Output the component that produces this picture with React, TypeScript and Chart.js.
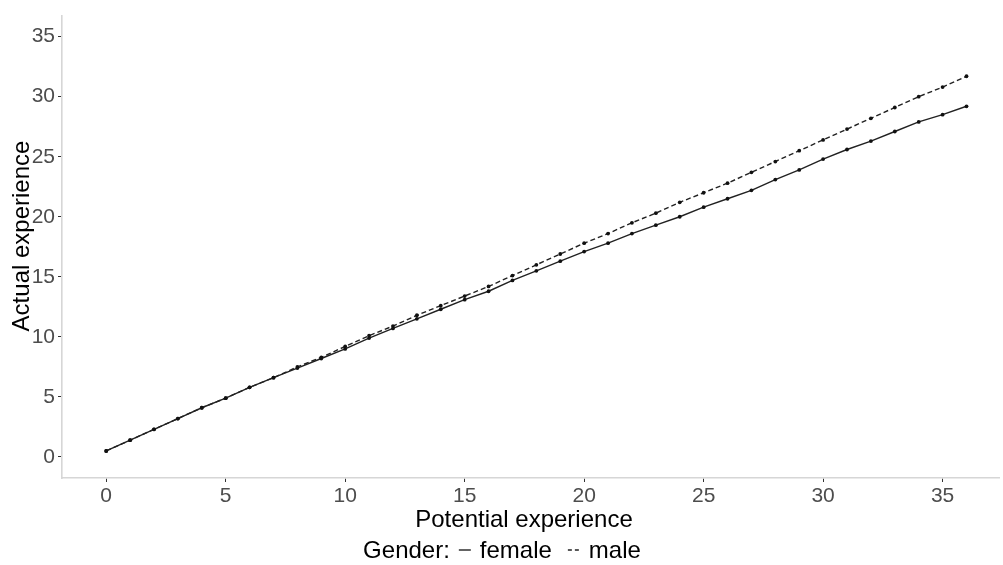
import React, { useEffect, useRef } from "react";
import { Chart, registerables } from "chart.js";

Chart.register(...registerables);

const potentialExp = [0, 1, 2, 3, 4, 5, 6, 7, 8, 9, 10, 11, 12, 13, 14, 15, 16, 17, 18, 19, 20, 21, 22, 23, 24, 25, 26, 27, 28, 29, 30, 31, 32, 33, 34, 35, 36];
const femaleExp = [0.5, 1.4, 2.3, 3.2, 4.1, 4.9, 5.8, 6.6, 7.4, 8.2, 9.0, 9.9, 10.7, 11.5, 12.3, 13.1, 13.8, 14.7, 15.5, 16.3, 17.1, 17.8, 18.6, 19.3, 20.0, 20.8, 21.5, 22.2, 23.1, 23.9, 24.8, 25.6, 26.3, 27.1, 27.9, 28.5, 29.2];
const maleExp = [0.5, 1.4, 2.3, 3.2, 4.1, 4.9, 5.8, 6.6, 7.5, 8.3, 9.2, 10.1, 10.9, 11.8, 12.6, 13.4, 14.2, 15.1, 16.0, 16.9, 17.8, 18.6, 19.5, 20.3, 21.2, 22.0, 22.8, 23.7, 24.6, 25.5, 26.4, 27.3, 28.2, 29.1, 30.0, 30.8, 31.7];
const xTickValues = [0, 5, 10, 15, 20, 25, 30, 35];
const yTickValues = [0, 5, 10, 15, 20, 25, 30, 35];
const seriesNames = ["female", "male"];
const xTitle = "Potential experience";
const yTitle = "Actual experience";
const legendTitle = "Gender:";

const FONT = "'Liberation Sans', Arial, sans-serif";

const annotatePlugin = {
  id: "annotate",
  afterDraw(chart: any) {
    const ctx = chart.ctx as CanvasRenderingContext2D;
    ctx.save();
    ctx.fillStyle = "#000";
    // x title
    ctx.font = `24px ${FONT}`;
    ctx.textAlign = "center";
    ctx.textBaseline = "alphabetic";
    ctx.fillText(xTitle, 524, 527);
    // y title
    ctx.save();
    ctx.translate(29, 236);
    ctx.rotate(-Math.PI / 2);
    ctx.fillText(yTitle, 0, 0);
    ctx.restore();
    // legend
    ctx.font = `24px ${FONT}`;
    ctx.textAlign = "left";
    const keyW = 12;
    const gapKey = 9;
    const gapItem = 16;
    const wTitle = ctx.measureText(legendTitle).width;
    const w1 = ctx.measureText(seriesNames[0]).width;
    const w2 = ctx.measureText(seriesNames[1]).width;
    const total = wTitle + gapKey + keyW + gapKey + w1 + gapItem + keyW + gapKey + w2;
    let x = 502 - total / 2;
    const by = 558;
    const ky = by - 8;
    ctx.fillText(legendTitle, x, by);
    x += wTitle + gapKey;
    ctx.strokeStyle = "#222";
    ctx.lineWidth = 1.4;
    ctx.beginPath();
    ctx.moveTo(x, ky);
    ctx.lineTo(x + keyW, ky);
    ctx.stroke();
    x += keyW + gapKey;
    ctx.fillText(seriesNames[0], x, by);
    x += w1 + gapItem;
    ctx.setLineDash([4, 3]);
    ctx.beginPath();
    ctx.moveTo(x, ky);
    ctx.lineTo(x + keyW, ky);
    ctx.stroke();
    ctx.setLineDash([]);
    x += keyW + gapKey;
    ctx.fillText(seriesNames[1], x, by);
    ctx.restore();
  },
};

export default function App() {
  const ref = useRef<HTMLCanvasElement | null>(null);
  useEffect(() => {
    if (!ref.current) return;
    const chart = new Chart(ref.current, {
      type: "line",
      data: {
        datasets: [
          {
            label: seriesNames[0],
            data: potentialExp.map((x, i) => ({ x, y: femaleExp[i] })),
            borderColor: "#222",
            borderWidth: 1.4,
            pointRadius: 1.9,
            pointBackgroundColor: "#111",
            pointBorderWidth: 0,
            tension: 0,
          },
          {
            label: seriesNames[1],
            data: potentialExp.map((x, i) => ({ x, y: maleExp[i] })),
            borderColor: "#222",
            borderWidth: 1.4,
            borderDash: [5, 3],
            pointRadius: 1.9,
            pointBackgroundColor: "#111",
            pointBorderWidth: 0,
            tension: 0,
          },
        ],
      },
      options: {
        responsive: false,
        animation: false,
        layout: { padding: { top: 5, left: 0, right: 0, bottom: 0 } },
        plugins: { legend: { display: false }, tooltip: { enabled: false } },
        scales: {
          x: {
            type: "linear",
            min: -1.85,
            max: 37.36,
            afterBuildTicks: (s: any) => {
              s.ticks = xTickValues.map((v) => ({ value: v }));
            },
            afterFit: (s: any) => {
              s.height = 87;
            },
            ticks: {
              color: "#4d4d4d",
              font: { family: FONT, size: 21 },
              padding: 2,
              maxRotation: 0,
              autoSkip: false,
            },
            grid: { drawOnChartArea: false, drawTicks: true, tickLength: 4, color: "#333", tickWidth: 1 },
            border: { display: true, color: "#d6d6d6", width: 1.6 },
          },
          y: {
            type: "linear",
            min: -1.75,
            max: 36.75,
            afterBuildTicks: (s: any) => {
              s.ticks = yTickValues.map((v) => ({ value: v }));
            },
            afterFit: (s: any) => {
              s.width = 62;
            },
            ticks: {
              color: "#4d4d4d",
              font: { family: FONT, size: 21 },
              padding: 3,
              autoSkip: false,
            },
            grid: { drawOnChartArea: false, drawTicks: true, tickLength: 4, color: "#333", tickWidth: 1 },
            border: { display: true, color: "#d6d6d6", width: 1.6 },
          },
        },
      },
      plugins: [annotatePlugin],
    } as any);
    return () => chart.destroy();
  }, []);
  return (
    <div style={{ position: "fixed", left: 0, top: 0, width: 1003, height: 565, background: "#fff" }}>
      <canvas ref={ref} width={1003} height={565} />
    </div>
  );
}
